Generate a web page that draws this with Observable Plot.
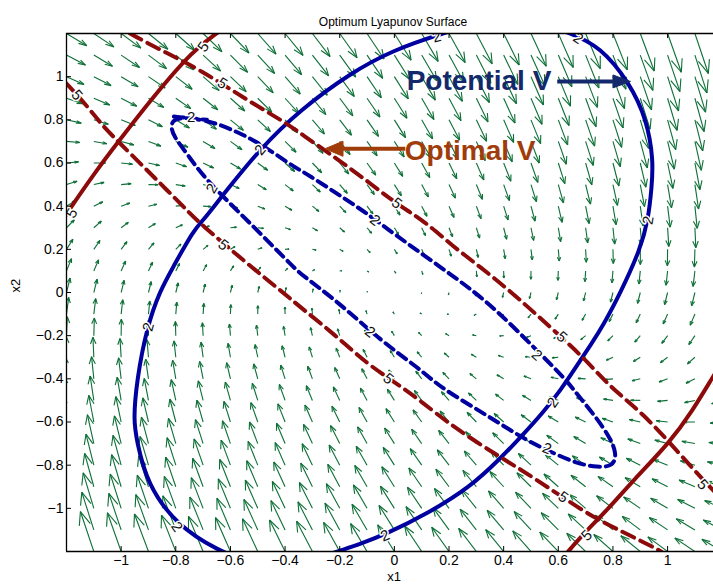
<!DOCTYPE html>
<html><head><meta charset="utf-8">
<script src="https://cdn.jsdelivr.net/npm/d3@7"></script>
<script src="https://cdn.jsdelivr.net/npm/@observablehq/plot@0.6"></script>
<style>body{margin:0;background:#fff}</style>
</head><body><div id="chart"></div>
<script>
// ---------- axes ----------
const xDomain = [-1.2, 1.168];
const yDomain = [-1.2, 1.2];
const xTicks = [-1, -0.8, -0.6, -0.4, -0.2, 0, 0.2, 0.4, 0.6, 0.8, 1];
const xTickLabels = ["−1","−0.8","−0.6","−0.4","−0.2","0","0.2","0.4","0.6","0.8","1"];
const yTicks = [-1, -0.8, -0.6, -0.4, -0.2, 0, 0.2, 0.4, 0.6, 0.8, 1];
const yTickLabels = ["−1","−0.8","−0.6","−0.4","−0.2","0","0.2","0.4","0.6","0.8","1"];

// ---------- quiver field (grid + linear system read from arrows) ----------
const gridX = [-1.2,-1.1,-1.0,-0.9,-0.8,-0.7,-0.6,-0.5,-0.4,-0.3,-0.2,-0.1,0,0.1,0.2,0.3,0.4,0.5,0.6,0.7,0.8,0.9,1.0,1.1,1.2];
const gridY = [-1.2,-1.1,-1.0,-0.9,-0.8,-0.7,-0.6,-0.5,-0.4,-0.3,-0.2,-0.1,0,0.1,0.2,0.3,0.4,0.5,0.6,0.7,0.8,0.9,1.0,1.1,1.2];
const systemA = [[-0.011, 0.051], [-0.056, -0.103]];

const potentialV2 = [[0.643,1.202],[0.54,1.245],[0.42,1.26],[0.30,1.245],[0.179,1.202],[-0.004,1.124],[-0.162,1.016],[-0.345,0.846],[-0.491,0.668],[-0.638,0.435],[-0.699,0.335],[-0.735,0.289],[-0.809,0.119],[-0.857,0.011],[-0.906,-0.16],[-0.943,-0.407],[-0.955,-0.593],[-0.943,-0.685],[-0.906,-0.886],[-0.796,-1.08],[-0.638,-1.2],[-0.55,-1.24],[-0.42,-1.26],[-0.30,-1.24],[-0.199,-1.196],[-0.125,-1.165],[-0.028,-1.118],[0.119,-1.026],[0.277,-0.902],[0.387,-0.77],[0.47,-0.66],[0.545,-0.555],[0.61,-0.45],[0.665,-0.345],[0.72,-0.24],[0.765,-0.15],[0.826,-0.005],[0.899,0.196],[0.929,0.335],[0.942,0.49],[0.948,0.614],[0.924,0.8],[0.862,0.97],[0.753,1.14],[0.643,1.202],[0.54,1.245]];
const potentialV5a = [[-1.26,0.25],[-1.199,0.367],[-1.089,0.568],[-1.01,0.699],[-0.882,0.908],[-0.735,1.124],[-0.65,1.202],[-0.6,1.245]];
const potentialV5b = [[0.6,-1.26],[0.637,-1.196],[0.704,-1.103],[0.777,-1.01],[0.874,-0.871],[1.009,-0.693],[1.09,-0.55],[1.166,-0.39],[1.21,-0.3]];
const optimalV2 = [[-0.807,0.815],[-0.686,0.80],[-0.589,0.753],[-0.491,0.691],[-0.37,0.583],[-0.32,0.55],[-0.174,0.428],[-0.101,0.367],[-0.004,0.274],[0.167,0.119],[0.338,-0.036],[0.509,-0.252],[0.631,-0.407],[0.667,-0.469],[0.728,-0.561],[0.789,-0.67],[0.814,-0.747],[0.801,-0.809],[0.728,-0.809],[0.655,-0.786],[0.558,-0.73],[0.484,-0.685],[0.387,-0.608],[0.289,-0.531],[0.167,-0.438],[0.094,-0.355],[-0.052,-0.221],[-0.199,-0.051],[-0.345,0.088],[-0.37,0.119],[-0.491,0.274],[-0.589,0.397],[-0.699,0.536],[-0.76,0.645],[-0.807,0.722],[-0.819,0.768],[-0.807,0.815],[-0.686,0.80]];
const optimalV5a = [[-1.03,1.25],[-0.973,1.202],[-0.833,1.109],[-0.711,1.032],[-0.54,0.892],[-0.394,0.784],[-0.345,0.738],[-0.187,0.599],[-0.089,0.506],[0.02,0.40],[0.106,0.335],[0.216,0.212],[0.314,0.119],[0.435,-0.005],[0.57,-0.16],[0.692,-0.3],[0.789,-0.438],[0.911,-0.561],[1.033,-0.732],[1.143,-0.886],[1.2,-0.96]];
const optimalV5b = [[-1.26,1.04],[-1.199,0.97],[-1.113,0.846],[-1.065,0.768],[-1.004,0.691],[-0.918,0.583],[-0.833,0.475],[-0.748,0.367],[-0.711,0.32],[-0.54,0.135],[-0.418,0.011],[-0.345,-0.067],[-0.223,-0.19],[-0.101,-0.33],[0.009,-0.422],[0.094,-0.5],[0.216,-0.624],[0.387,-0.763],[0.509,-0.856],[0.704,-1.026],[0.826,-1.103],[0.948,-1.18],[0.972,-1.196],[1.01,-1.23]];

// contour labels [x, y, text, rotation]
const labelsPotential2 = [[0.155,1.184,"2",-15],[0.673,1.177,"2",35],[-0.491,0.66,"2",-50],[-0.9,-0.16,"2",-75],[-0.796,-1.086,"2",55],[-0.034,-1.127,"2",-22],[0.58,-0.51,"2",-55],[0.929,0.335,"2",-80]];
const labelsOptimal2 = [[-0.744,0.811,"2",0],[-0.668,0.482,"2",-60],[-0.071,0.335,"2",38],[-0.089,-0.183,"2",38],[0.521,-0.29,"2",42],[0.558,-0.723,"2",22]];
const labelsPotential5 = [[-0.699,1.138,"5",-55],[-1.18,0.367,"5",-60],[0.704,-1.125,"5",-45]];
const labelsOptimal5 = [[-1.162,0.915,"5",50],[-0.63,0.969,"5",32],[0.009,0.413,"5",38],[-0.626,0.22,"5",38],[-0.022,-0.4,"5",40],[0.613,-0.206,"5",42],[0.618,-0.948,"5",35],[1.128,-0.89,"5",48]];

// annotations
const annotTexts = [{text:"Potential V", x:0.045, y:0.982, color:"#14296b"},{text:"Optimal V", x:0.038, y:0.655, color:"#a03c0a"}];
const annotArrows = [{x1:0.596, base:0.80, tip:0.863, y:0.978, half:0.030, color:"#14296b"},{x1:0.04, base:-0.188, tip:-0.254, y:0.666, half:0.035, color:"#a03c0a"}];

// ---------- build ----------
const alpha = 0.33, beta = 0.33;
const segs = [];
for (const x of gridX) for (const y of gridY) {
  const u = systemA[0][0]*x + systemA[0][1]*y;
  const v = systemA[1][0]*x + systemA[1][1]*y;
  const tx = x + u, ty = y + v;
  segs.push({x1:x, y1:y, x2:tx, y2:ty});
  segs.push({x1:tx, y1:ty, x2:tx - alpha*(u + beta*v), y2:ty - alpha*(v - beta*u)});
  segs.push({x1:tx, y1:ty, x2:tx - alpha*(u - beta*v), y2:ty - alpha*(v + beta*u)});
}
const xLab = new Map(xTicks.map((t,i)=>[t, xTickLabels[i]]));
const yLab = new Map(yTicks.map((t,i)=>[t, yTickLabels[i]]));
const heads = annotArrows.map(a => [[a.tip,a.y],[a.base,a.y+a.half],[a.base,a.y-a.half],[a.tip,a.y]].map(p => ({x:p[0], y:p[1], c:a.color, id:a.color})));

const BLUE = "#0000a0", RED = "#8c0a0a", GREEN = "#0c6f36";
const frameW = 713 - 66, frameH = 588 - 33 - 37;
const lineOpts = (stroke, dash) => ({x: d=>d[0], y: d=>d[1], stroke, strokeWidth: 4, curve: "basis", clip: true, strokeDasharray: dash});
const labelOpts = {x: d=>d[0], y: d=>d[1], text: d=>d[2], rotate: d=>d[3], fontSize: 15, fill: "#111", stroke: "white", strokeWidth: 3, clip: true};

const chart = Plot.plot({
  width: 713, height: 588,
  marginLeft: 66, marginRight: 0, marginTop: 33, marginBottom: 37,
  style: {fontFamily: "'Liberation Sans', Arial, Helvetica, sans-serif", background: "white", color: "black"},
  x: {domain: xDomain},
  y: {domain: yDomain},
  marks: [
    Plot.link(segs, {x1:"x1", y1:"y1", x2:"x2", y2:"y2", stroke: GREEN, strokeWidth: 1.1, clip: true}),
    Plot.line(potentialV2, lineOpts(BLUE)),
    Plot.line(optimalV2, lineOpts(BLUE, "10,6")),
    Plot.line(potentialV5a, lineOpts(RED)),
    Plot.line(potentialV5b, lineOpts(RED)),
    Plot.line(optimalV5a, lineOpts(RED, "13,7")),
    Plot.line(optimalV5b, lineOpts(RED, "13,7")),
    Plot.text(labelsPotential2, labelOpts),
    Plot.text(labelsOptimal2, labelOpts),
    Plot.text(labelsPotential5, labelOpts),
    Plot.text(labelsOptimal5, labelOpts),
    Plot.link(annotArrows, {x1:"x1", x2:"base", y1:"y", y2:"y", stroke: d=>d.color, strokeWidth: 4}),
    Plot.line(heads.flat(), {x:"x", y:"y", z:"id", fill: d=>d.c, stroke: d=>d.c, strokeWidth: 1}),
    Plot.text(annotTexts, {x:"x", y:"y", text:"text", fill: d=>d.color, fontSize: 28, fontWeight: "bold", textAnchor: "start", lineAnchor: "middle"}),
    // frame lines
    Plot.ruleY([yDomain[0], yDomain[1]], {stroke: "black", strokeWidth: 1.3}),
    Plot.ruleX([xDomain[0]], {stroke: "black", strokeWidth: 1.3}),
    // inward ticks
    Plot.ruleX(xTicks, {stroke: "black", insetTop: frameH - 5}),
    Plot.ruleX(xTicks, {stroke: "black", insetBottom: frameH - 5}),
    Plot.ruleY(yTicks, {stroke: "black", insetRight: frameW - 5}),
    Plot.axisX(xTicks, {tickSize: 0, tickPadding: 4, fontSize: 14, tickFormat: d => xLab.get(d), label: null}),
    Plot.axisY(yTicks, {tickSize: 0, tickPadding: 3, fontSize: 14, tickFormat: d => yLab.get(d), label: null}),
    Plot.text(["x1"], {text: d=>d, frameAnchor: "bottom", dx: 4, dy: 29, fontSize: 13}),
    Plot.text(["x2"], {text: d=>d, frameAnchor: "left", dx: -51, rotate: -90, fontSize: 13}),
    Plot.text(["Optimum Lyapunov Surface"], {text: d=>d, frameAnchor: "top", dx: 3, dy: -16, fontSize: 12})
  ]
});
document.getElementById("chart").appendChild(chart);
</script></body></html>
